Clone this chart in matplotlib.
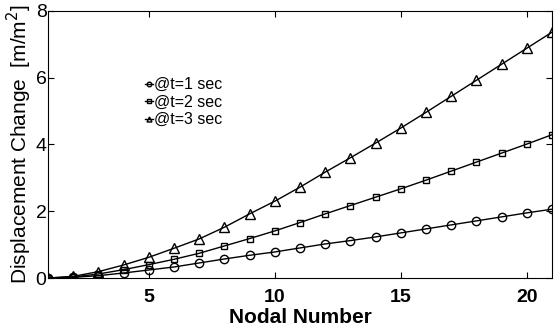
import numpy as np
import matplotlib
matplotlib.use('Agg')
import matplotlib.pyplot as plt

plt.rcParams['font.family'] = ['Liberation Sans', 'DejaVu Sans']

nodes = np.arange(1, 22)
t1 = [0, 0.02, 0.07, 0.15, 0.24, 0.33, 0.45, 0.57, 0.68, 0.78, 0.9,
      1.02, 1.12, 1.23, 1.35, 1.47, 1.59, 1.71, 1.83, 1.95, 2.06]
t2 = [0, 0.03, 0.12, 0.25, 0.40, 0.56, 0.74, 0.96, 1.18, 1.41, 1.66,
      1.92, 2.17, 2.42, 2.67, 2.93, 3.20, 3.47, 3.74, 4.01, 4.29]
t3 = [0, 0.05, 0.19, 0.39, 0.62, 0.89, 1.17, 1.52, 1.92, 2.30, 2.72,
      3.17, 3.60, 4.04, 4.49, 4.96, 5.44, 5.92, 6.40, 6.88, 7.36]
labels = ['@t=1 sec', '@t=2 sec', '@t=3 sec']

fig = plt.figure(figsize=(5.55, 3.29), dpi=100)
ax = fig.add_axes([0.0865, 0.155, 0.908, 0.812])

ax.plot(nodes, t1, 'k-', marker='o', mfc='none', ms=6, lw=1, label=labels[0])
ax.plot(nodes, t2, 'k-', marker='s', mfc='none', ms=5, lw=1, label=labels[1])
ax.plot(nodes, t3, 'k-', marker='^', mfc='none', ms=6.5, lw=1, label=labels[2])

ax.set_xlim(1, 21)
ax.set_ylim(0, 8)
ax.set_xticks([5, 10, 15, 20])
ax.set_yticks([0, 2, 4, 6, 8])
ax.tick_params(direction='in', top=True, right=True, length=4)
ax.tick_params(axis='x', labelsize=14, pad=8)
ax.tick_params(axis='y', labelsize=14, pad=1)
for lab in ax.get_xticklabels():
    lab.set_fontweight('bold')
ax.set_xlabel('Nodal Number', fontsize=15, fontweight='bold', labelpad=1)
ax.set_ylabel('Displacement Change  [m/m$^2$]', fontsize=15, labelpad=1)

ax.legend(loc='upper left', bbox_to_anchor=(0.18, 0.775), frameon=False,
          fontsize=11.5, handlelength=0.5, handletextpad=0.05, markerscale=0.55,
          labelspacing=0.15, borderaxespad=0)

fig.savefig('out.png', dpi=100)
